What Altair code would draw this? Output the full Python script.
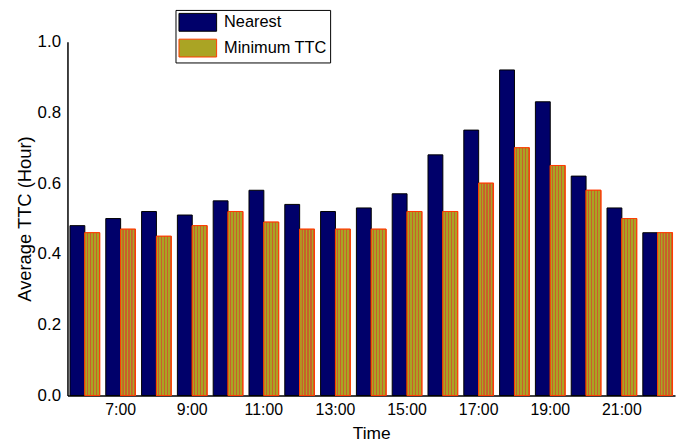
import altair as alt
import pandas as pd

hours = ["6:00", "7:00", "8:00", "9:00", "10:00", "11:00", "12:00", "13:00", "14:00",
         "15:00", "16:00", "17:00", "18:00", "19:00", "20:00", "21:00", "22:00"]
nearest = [0.48, 0.50, 0.52, 0.51, 0.55, 0.58, 0.54, 0.52, 0.53,
           0.57, 0.68, 0.75, 0.92, 0.83, 0.62, 0.53, 0.46]
min_ttc = [0.46, 0.47, 0.45, 0.48, 0.52, 0.49, 0.47, 0.47, 0.47,
           0.52, 0.52, 0.60, 0.70, 0.65, 0.58, 0.50, 0.46]
series = ["Nearest", "Minimum TTC"]
shown_labels = ["7:00", "9:00", "11:00", "13:00", "15:00", "17:00", "19:00", "21:00"]

rows = []
for h, a, b in zip(hours, nearest, min_ttc):
    rows.append({"Time": h, "series": series[0], "value": a})
    rows.append({"Time": h, "series": series[1], "value": b})
df = pd.DataFrame(rows)

FONT = "Liberation Sans"

# striped fill for Minimum TTC bars
stops = []
n = 5
olive = "#aaa424"
line = "#c9602a"
for i in range(n):
    s = i / n
    w = 1 / n
    stops += [
        {"offset": s, "color": olive},
        {"offset": s + w * 0.62, "color": olive},
        {"offset": s + w * 0.63, "color": line},
        {"offset": s + w * 0.99, "color": line},
    ]
stops.append({"offset": 1.0, "color": olive})
grad = alt.Gradient(gradient="linear", stops=stops, x1=0, x2=1, y1=0, y2=0)

label_expr = "indexof(" + str(shown_labels).replace("'", "\"") + ", datum.value) >= 0 ? datum.value : ''"

x_enc = alt.X(
    "Time:N",
    sort=hours,
    scale=alt.Scale(paddingInner=0.17, paddingOuter=0.07),
    axis=alt.Axis(
        title="Time", labelExpr=label_expr, labelAngle=0, ticks=False, grid=False,
        labelPadding=6, titlePadding=7, domainColor="black", domainWidth=1.5,
        labelFont=FONT, titleFont=FONT, labelFontSize=16, titleFontSize=17.5,
        titleFontWeight="normal", labelColor="black", titleColor="black",
    ),
)
xo_enc = alt.XOffset("series:N", sort=series, scale=alt.Scale(domain=series, paddingInner=0))
y_enc = alt.Y(
    "value:Q",
    scale=alt.Scale(domain=[0, 1], nice=False),
    axis=alt.Axis(
        title="Average TTC (Hour)", values=[0, 0.2, 0.4, 0.6, 0.8, 1.0], format=".1f",
        ticks=False, grid=False, labelPadding=7, titlePadding=3, domainColor="black",
        domainWidth=1.5, labelFont=FONT, titleFont=FONT, labelFontSize=17,
        titleFontSize=18.5, titleFontWeight="normal", labelColor="black", titleColor="black",
    ),
)

base = alt.Chart(df).mark_bar(strokeWidth=1).encode(
    x=x_enc,
    xOffset=xo_enc,
    y=y_enc,
    fill=alt.Fill(
        "series:N", sort=series,
        scale=alt.Scale(domain=series, range=["#00006a", olive]),
        legend=alt.Legend(
            title=None, orient="none", legendX=109, legendY=-32,
            symbolType="M-1,-1H3.22V1H-1Z", symbolSize=324,
            symbolStrokeWidth=1, labelFont=FONT, labelFontSize=16.5,
            labelColor="black", strokeColor="black", padding=3,
            rowPadding=3, labelOffset=27, symbolOpacity=1,
            labelLimit=200,
        ),
    ),
    stroke=alt.Stroke(
        "series:N", sort=series,
        scale=alt.Scale(domain=series, range=["#000000", "#ff3c00"]),
    ),
)

striped = alt.Chart(df).transform_filter(
    alt.datum.series == "Minimum TTC"
).mark_bar(fill=grad, stroke="#ff3c00", strokeWidth=1).encode(
    x=x_enc, xOffset=xo_enc, y=y_enc,
)

chart = alt.layer(base, striped).properties(
    width=613, height=357,
    background="white",
    autosize=alt.AutoSizeParams(type="none"),
    padding={"left": 60, "top": 32, "right": 4, "bottom": 46},
).configure_view(stroke=None).configure_axis(grid=False)

chart.save("out.html", embed_options={"renderer": "svg", "actions": False})
